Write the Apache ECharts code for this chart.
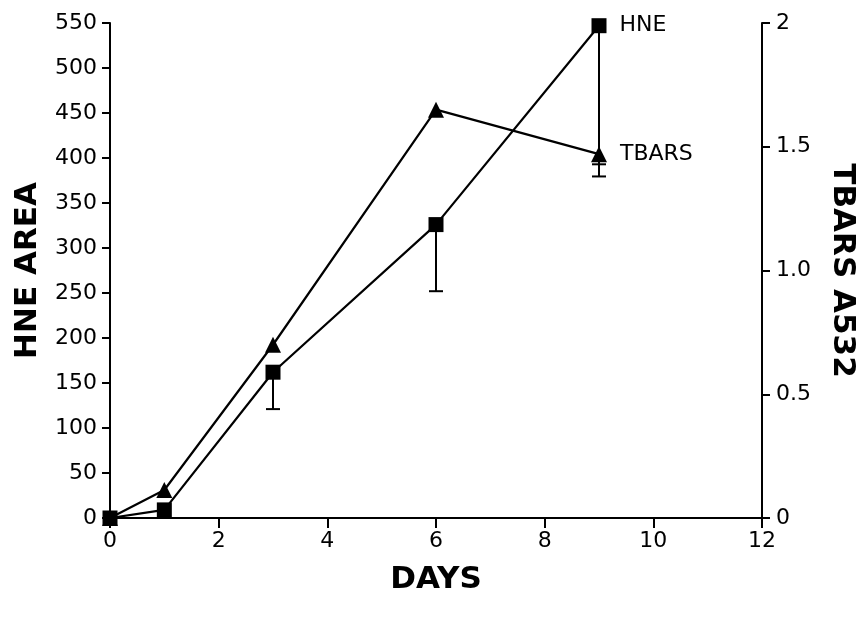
<!DOCTYPE html>
<html>
<head>
<meta charset="utf-8">
<script src="https://cdn.jsdelivr.net/npm/echarts@6/dist/echarts.min.js"></script>
<style>
html,body{margin:0;padding:0;background:#fff;}
#chart{width:862px;height:619px;}
</style>
</head>
<body>
<div id="chart"></div>
<script>
const days = [0, 1, 3, 6, 9];
const hneArea = [0, 9, 162, 326, 547];
const hneErrLow = [null, null, 121, 252, 393];
const tbarsA532 = [0, 0.113, 0.70, 1.65, 1.47];
const tbarsErrLow = [null, null, null, null, 1.38];
const rightTickLabels = {0: '0', 0.5: '0.5', 1: '1.0', 1.5: '1.5', 2: '2'};
const seriesNames = ['HNE', 'TBARS'];

const FONT = 'DejaVu Sans';
const chart = echarts.init(document.getElementById('chart'), null, {renderer: 'canvas'});

function errData(vals, lows) {
  const out = [];
  for (let i = 0; i < days.length; i++) {
    if (lows[i] !== null) out.push([days[i], vals[i], lows[i]]);
  }
  return out;
}

function errRender(params, api) {
  const x = api.value(0);
  const top = api.coord([x, api.value(1)]);
  const bot = api.coord([x, api.value(2)]);
  const hw = 7;
  const style = {stroke: '#000', lineWidth: 2};
  return {
    type: 'group',
    children: [
      {type: 'line', shape: {x1: top[0], y1: top[1], x2: bot[0], y2: bot[1]}, style: style},
      {type: 'line', shape: {x1: bot[0] - hw, y1: bot[1], x2: bot[0] + hw, y2: bot[1]}, style: style}
    ]
  };
}

const axisTextStyle = {color: '#000', fontFamily: FONT, fontSize: 22};
const nameTextStyle = {color: '#000', fontFamily: FONT, fontSize: 31, fontWeight: 'bold'};

chart.setOption({
  backgroundColor: '#fff',
  animation: false,
  grid: {left: 110, right: 100, top: 23, bottom: 101, containLabel: false, outerBoundsMode: 'none'},
  xAxis: {
    type: 'value', min: 0, max: 12, interval: 2,
    name: 'DAYS', nameLocation: 'middle', nameGap: 46, nameTextStyle: nameTextStyle,
    axisLine: {show: true, onZero: false, lineStyle: {color: '#000', width: 2}},
    axisTick: {show: true, length: 10, lineStyle: {color: '#000', width: 2}},
    axisLabel: Object.assign({margin: 12}, axisTextStyle),
    splitLine: {show: false}
  },
  yAxis: [{
    type: 'value', min: 0, max: 550, interval: 50, position: 'left',
    name: 'HNE AREA', nameLocation: 'middle', nameGap: 67, nameRotate: 90, nameTextStyle: nameTextStyle,
    axisLine: {show: true, lineStyle: {color: '#000', width: 2}},
    axisTick: {show: true, length: 8, lineStyle: {color: '#000', width: 2}},
    axisLabel: Object.assign({margin: 13}, axisTextStyle),
    splitLine: {show: false}
  }, {
    type: 'value', min: 0, max: 2, interval: 0.5, position: 'right',
    name: 'TBARS A532', nameLocation: 'middle', nameGap: 65, nameRotate: -90, nameTextStyle: nameTextStyle,
    axisLine: {show: true, lineStyle: {color: '#000', width: 2}},
    axisTick: {show: true, length: 8, lineStyle: {color: '#000', width: 2}},
    axisLabel: Object.assign({margin: 14, formatter: function (v) { return rightTickLabels[v] !== undefined ? rightTickLabels[v] : String(v); }}, axisTextStyle),
    splitLine: {show: false}
  }],
  series: [{
    name: 'HNE err', type: 'custom', yAxisIndex: 0, z: 1,
    renderItem: errRender, data: errData(hneArea, hneErrLow), silent: true
  }, {
    name: 'TBARS err', type: 'custom', yAxisIndex: 1, z: 1,
    renderItem: errRender, data: errData(tbarsA532, tbarsErrLow), silent: true
  }, {
    name: seriesNames[0], type: 'line', yAxisIndex: 0, z: 3,
    data: days.map((d, i) => [d, hneArea[i]]),
    symbol: 'rect', symbolSize: 15, showAllSymbol: true,
    lineStyle: {color: '#000', width: 2.2}, itemStyle: {color: '#000'},
    label: {
      show: true, position: 'right', distance: 13, color: '#000', fontFamily: FONT, fontSize: 22,
      formatter: function (p) { return p.dataIndex === days.length - 1 ? seriesNames[0] : ''; }
    }
  }, {
    name: seriesNames[1], type: 'line', yAxisIndex: 1, z: 3,
    data: days.map((d, i) => [d, tbarsA532[i]]),
    symbol: 'triangle', symbolSize: 16, showAllSymbol: true,
    lineStyle: {color: '#000', width: 2.2}, itemStyle: {color: '#000'},
    label: {
      show: true, position: 'right', distance: 13, color: '#000', fontFamily: FONT, fontSize: 22,
      formatter: function (p) { return p.dataIndex === days.length - 1 ? seriesNames[1] : ''; }
    }
  }]
});
</script>
</body>
</html>
